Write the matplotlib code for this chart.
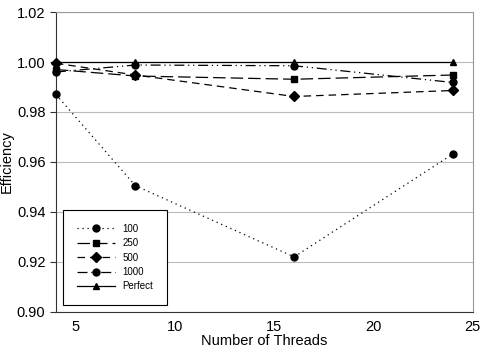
import matplotlib
matplotlib.use('Agg')
import matplotlib.pyplot as plt

plt.rcParams['font.family'] = ['Liberation Sans', 'DejaVu Sans']

threads = [4, 8, 16, 24]
eff_100 = [0.987, 0.9505, 0.922, 0.9632]
eff_250 = [0.997, 0.9944, 0.9931, 0.9948]
eff_500 = [0.9995, 0.9948, 0.9862, 0.9886]
eff_1000 = [0.996, 0.9988, 0.9985, 0.9918]
eff_perfect = [1.0, 1.0, 1.0, 1.0]

fig = plt.figure(figsize=(4.82, 3.54), dpi=100)
ax = fig.add_axes([0.116, 0.119, 0.865, 0.847])

kw = dict(color='black', linewidth=0.9, markersize=5, clip_on=False, zorder=3)
ax.plot(threads, eff_100, marker='o', linestyle=(0, (1, 3)), label='100', **kw)
ax.plot(threads, eff_250, marker='s', linestyle=(0, (10, 4)), label='250', **kw)
ax.plot(threads, eff_500, marker='D', linestyle=(0, (6, 4)), label='500', **kw)
ax.plot(threads, eff_1000, marker='o', linestyle=(0, (8, 3, 1, 3, 1, 3)), label='1000', **kw)
ax.plot(threads, eff_perfect, marker='^', linestyle='-', label='Perfect', **kw)

ax.set_xlim(4, 25)
ax.set_ylim(0.90, 1.02)
ax.set_xticks([5, 10, 15, 20, 25])
ax.set_yticks([0.90, 0.92, 0.94, 0.96, 0.98, 1.00, 1.02])
ax.set_yticklabels([f'{v:.2f}' for v in ax.get_yticks()])
ax.yaxis.grid(True, color='#bbbbbb', linewidth=0.8)
ax.set_axisbelow(True)

for side in ['top', 'right']:
    ax.spines[side].set_color('#999999')
ax.spines['left'].set_color('#333333')
ax.spines['bottom'].set_color('#333333')
ax.tick_params(axis='x', length=0, labelsize=10.5, pad=6)
ax.tick_params(axis='y', direction='out', length=4, labelsize=10.5, color='#333333')

ax.set_xlabel('Number of Threads', fontsize=10.5, labelpad=0)
ax.set_ylabel('Efficiency', fontsize=10.5, labelpad=2)

leg = ax.legend(loc='lower left', bbox_to_anchor=(0.017, 0.023), borderaxespad=0,
                fontsize=7, fancybox=False, edgecolor='black', framealpha=1,
                handlelength=4.0, handletextpad=0.7, labelspacing=0.45, borderpad=1.4)
leg.get_frame().set_linewidth(0.8)

fig.savefig('out.png', dpi=100)
